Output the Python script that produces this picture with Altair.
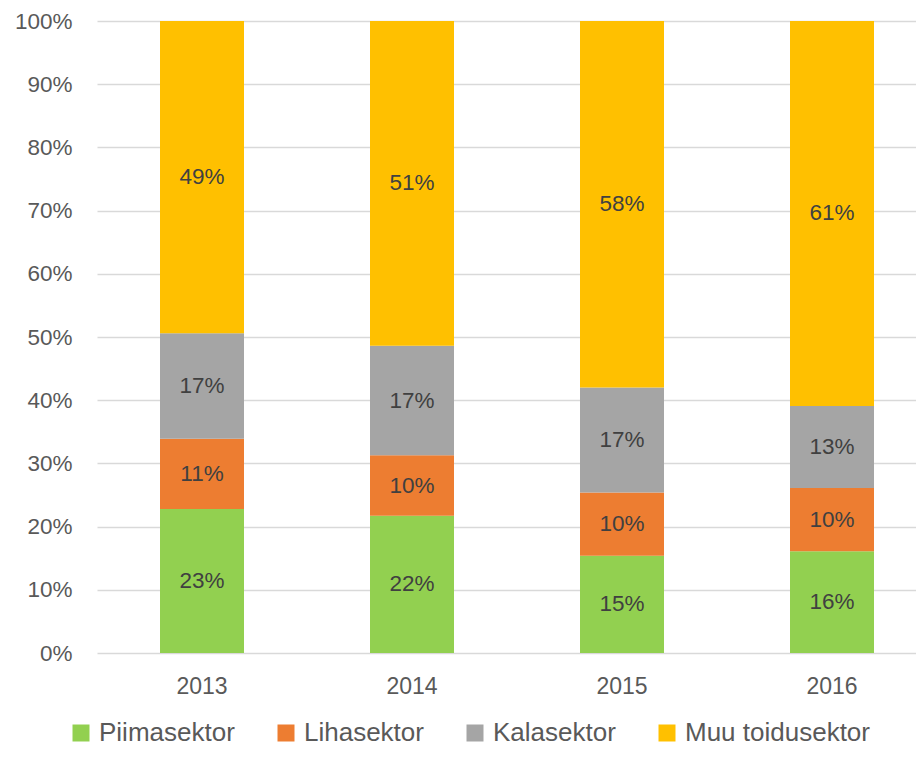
import altair as alt
import pandas as pd

years = ["2013", "2014", "2015", "2016"]
sectors = ["Piimasektor", "Lihasektor", "Kalasektor", "Muu toidusektor"]
colors = ["#92D050", "#ED7D31", "#A5A5A5", "#FFC000"]

piim = [22.8, 21.7, 15.4, 16.1]
liha = [11.1, 9.6, 10.0, 10.0]
kala = [16.7, 17.3, 16.6, 13.0]
muu = [49.4, 51.4, 58.0, 60.9]

y_ticks = [0, 0.1, 0.2, 0.3, 0.4, 0.5, 0.6, 0.7, 0.8, 0.9, 1.0]

series = [piim, liha, kala, muu]
rows = []
for si, (name, vals) in enumerate(zip(sectors, series)):
    for yr, v in zip(years, vals):
        rows.append({"year": yr, "sector": name, "order": si, "value": v})
df = pd.DataFrame(rows)

FONT = "Liberation Sans"

base = alt.Chart(df).transform_stack(
    stack="value", groupby=["year"], as_=["lo", "hi"],
    sort=[alt.SortField("order", order="ascending")], offset="normalize"
).transform_calculate(
    mid="(datum.lo + datum.hi) / 2",
    label="format(datum.value / 100, '.0%')"
)

xenc = alt.X("year:N", title=None, sort=years,
             scale=alt.Scale(range=[0, 840], paddingInner=0.6, paddingOuter=0.3),
             axis=alt.Axis(labelAngle=0, ticks=False, domain=False, labelPadding=22,
                           labelFontSize=23, labelColor="#595959", labelFont=FONT))

bars = base.mark_bar().encode(
    x=xenc,
    y=alt.Y("lo:Q", scale=alt.Scale(domain=[0, 1]),
            axis=alt.Axis(values=y_ticks, format=".0%", title=None, domain=False, ticks=False,
                          labelPadding=25, labelFontSize=22.5, labelColor="#595959",
                          labelFont=FONT, gridColor="#D9D9D9", gridWidth=1.4)),
    y2="hi:Q",
    color=alt.Color("sector:N", sort=sectors,
                    scale=alt.Scale(domain=sectors, range=colors),
                    legend=alt.Legend(orient="none", legendX=-29, legendY=699,
                                      direction="horizontal", columns=4, title=None,
                                      padding=0, rowPadding=0,
                                      symbolType="square", symbolSize=289, symbolStrokeWidth=0,
                                      labelFontSize=26, labelFont=FONT, labelColor="#595959",
                                      labelOffset=5, columnPadding=38, labelLimit=400)),
    order=alt.Order("order:Q"),
)

texts = base.mark_text(fontSize=22.5, font=FONT, color="#404040", baseline="middle").encode(
    x=xenc,
    y=alt.Y("mid:Q", scale=alt.Scale(domain=[0, 1])),
    text="label:N",
)

chart = alt.layer(bars, texts).properties(
    width=819, height=632,
    autosize=alt.AutoSizeParams(type="none"),
    padding={"left": 89, "top": 13, "right": 0, "bottom": 93},
).configure_view(stroke=None)

chart.save("out.html", embed_options={"renderer": "svg", "actions": False})
